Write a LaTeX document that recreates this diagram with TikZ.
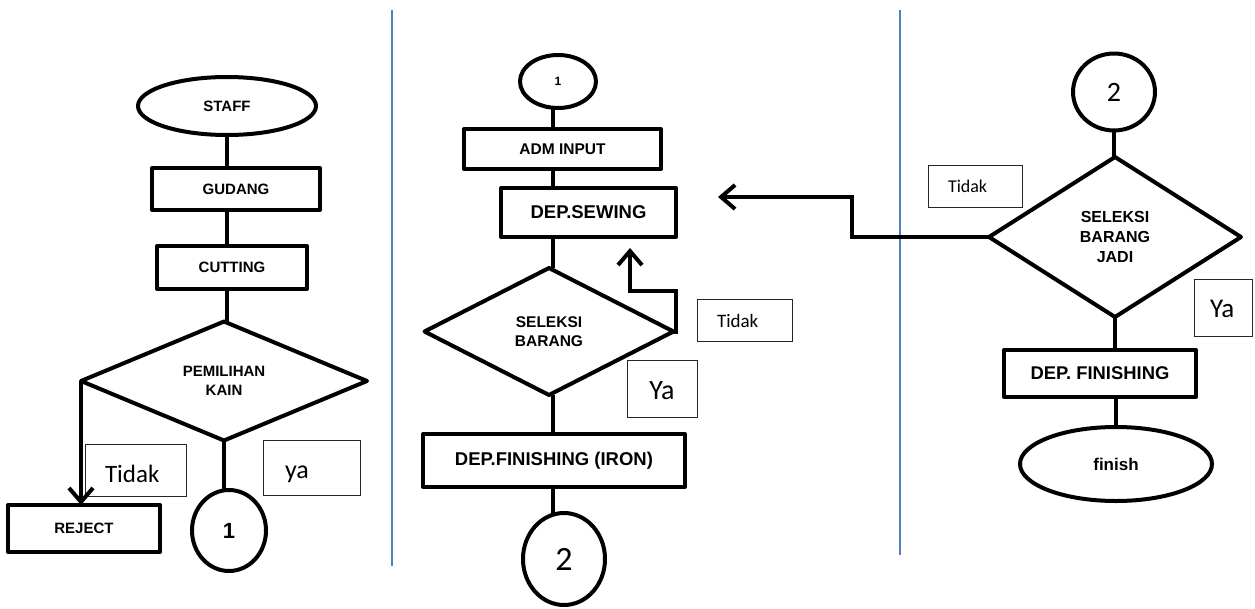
\documentclass[tikz,border=0pt]{standalone}
\usepackage{fontspec}
\setmainfont{Liberation Sans}
\newfontfamily\calibrifont{Carlito}
\usetikzlibrary{shapes.geometric,arrows.meta}
\definecolor{sepblue}{HTML}{4F81BD}
\newcommand{\lowtext}[2]{\raisebox{-#1}[0pt][0pt]{#2}}
\begin{document}
\begin{tikzpicture}[x=1pt,y=-1pt,
  every node/.style={inner sep=0pt, outer sep=0pt},
  shp/.style={draw, line width=4pt, line join=round, align=center, font=\bfseries\fontsize{15}{18.7}\selectfont},
  boxs/.style={shp, rectangle},
  ell/.style={shp, ellipse},
  dia/.style={shp, diamond},
  conn/.style={line width=4pt},
  arr/.style={conn, -{Straight Barb[length=14pt,width=24pt]}},
  lbl/.style={draw=black!85, line width=1pt, align=left},
  sep/.style={draw=sepblue, line width=1.6pt}]
\useasboundingbox (0,0) rectangle (1255,608);

% separators
\draw[sep] (392,10) -- (392,566);
\draw[sep] (900,10) -- (900,555);

% ---------- left column ----------
\node[ell, minimum width=178pt, minimum height=58pt] (staff) at (227,106) {STAFF};
\node[boxs, minimum width=168pt, minimum height=42pt] (gudang) at (236,189) {GUDANG};
\node[boxs, minimum width=150pt, minimum height=43pt] (cutting) at (232,267.5) {CUTTING};
\node[dia, minimum width=286pt, minimum height=119pt] (pem) at (224,381) {PEMILIHAN\\KAIN};
\node[boxs, minimum width=152pt, minimum height=47pt] (reject) at (84,528.5) {REJECT};
\node[ell, minimum width=74pt, minimum height=81pt, font=\bfseries\fontsize{22}{26}\selectfont] (c1) at (229,530.5) {1};
\node[lbl, text width=61pt, inner xsep=20pt, minimum height=52pt, font=\calibrifont\fontsize{25}{30}\selectfont] (t1) at (135.5,470) {\lowtext{12pt}{Tidak}};
\node[lbl, text width=53pt, inner xsep=22pt, minimum height=55pt, font=\calibrifont\fontsize{26}{30}\selectfont] (y1) at (311.5,467.5) {\lowtext{11pt}{ya}};

\draw[conn] (staff.south) -- (staff.south |- gudang.north);
\draw[conn] (staff.south |- gudang.south) -- (staff.south |- cutting.north);
\draw[conn] (staff.south |- cutting.south) -- (staff.south |- pem.north);
\draw[conn] (pem.south) -- (pem.south |- c1.north);
\draw[arr] (pem.west) -- (pem.west |- reject.north);

% ---------- middle column ----------
\coordinate (mx) at (553,0);
\node[ell, minimum width=76pt, minimum height=53pt, font=\bfseries\fontsize{12}{14}\selectfont] (m1) at (558,81.5) {1};
\node[boxs, minimum width=197pt, minimum height=40pt, font=\bfseries\fontsize{15.5}{18}\selectfont] (adm) at (562.5,149) {ADM INPUT};
\node[boxs, minimum width=175pt, minimum height=49pt, font=\bfseries\fontsize{18.5}{22}\selectfont] (sewing) at (588.5,212.5) {DEP.SEWING};
\node[dia, minimum width=249pt, minimum height=127pt, font=\bfseries\fontsize{15.5}{19}\selectfont] (sel) at (549,331.5) {SELEKSI\\BARANG};
\node[boxs, minimum width=262pt, minimum height=53pt, font=\bfseries\fontsize{18.5}{22}\selectfont] (fin) at (554,460.5) {DEP.FINISHING (IRON)};
\node[ell, minimum width=82pt, minimum height=92pt, font=\calibrifont\fontsize{34}{38}\selectfont] (m2) at (564,559) {2};
\node[lbl, text width=55pt, inner xsep=20pt, minimum height=42pt, font=\calibrifont\fontsize{19}{22}\selectfont] (t2) at (744.5,320) {\lowtext{7pt}{Tidak}};
\node[lbl, minimum width=70pt, minimum height=57pt, font=\calibrifont\fontsize{28}{32}\selectfont] (y2) at (662,388.5) {\lowtext{11pt}{Ya}};

\draw[conn] (m1.south -| mx) -- (adm.north -| mx);
\draw[conn] (adm.south -| mx) -- (sewing.north -| mx);
\draw[conn] (sewing.south -| mx) -- (sel.north -| mx);
\draw[conn] (sel.south -| mx) -- (fin.north -| mx);
\draw[conn] (fin.south -| mx) -- (m2.north -| mx);
\coordinate (fbtip) at (630,248);
\draw[arr] (sel.east) -| (676,291) -| (fbtip);

% ---------- right column ----------
\node[ell, minimum width=82pt, minimum height=77pt, font=\calibrifont\fontsize{28}{32}\selectfont] (r2) at (1114,92) {2};
\node[dia, minimum width=252pt, minimum height=160pt, font=\bfseries\fontsize{16}{20}\selectfont] (sj) at (1115,237) {SELEKSI\\BARANG\\JADI};
\node[boxs, minimum width=192pt, minimum height=47pt, font=\bfseries\fontsize{18.4}{22}\selectfont] (dfin) at (1100,373.5) {DEP. FINISHING};
\node[ell, minimum width=192pt, minimum height=74pt, font=\bfseries\fontsize{17}{20}\selectfont] (finish) at (1116,464) {finish};
\node[lbl, text width=54pt, inner xsep=20pt, minimum height=42pt, font=\calibrifont\fontsize{18}{22}\selectfont] (t3) at (975,186) {\lowtext{6pt}{Tidak}};
\node[lbl, text width=26pt, inner xsep=16pt, minimum height=57pt, font=\calibrifont\fontsize{27}{32}\selectfont] (y3) at (1223,307.5) {\lowtext{10pt}{Ya}};

\draw[conn] (r2.south) -- (r2.south |- sj.north);
\draw[conn] (sj.south) -- (sj.south |- dfin.north);
\draw[conn] (dfin.south -| finish.north) -- (finish.north);
\coordinate (tbtip) at (718,197);
\draw[arr] (sj.west) -| (852,197) -- (tbtip);
\end{tikzpicture}
\end{document}
